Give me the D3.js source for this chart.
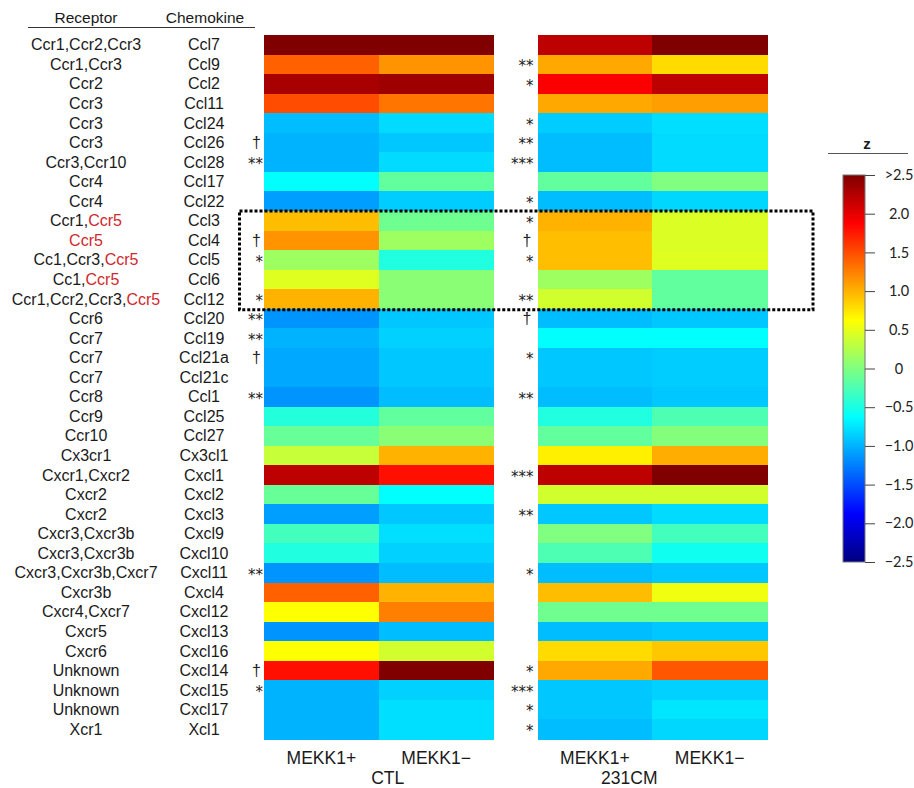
<!DOCTYPE html>
<html>
<head>
<meta charset="utf-8">
<script src="https://cdn.jsdelivr.net/npm/d3@7"></script>
<style>
  body { margin: 0; background: #fff; }
  text { font-family: "Liberation Sans", Arial, sans-serif; fill: #1a1a1a; }
</style>
</head>
<body>
<script>
// data
var receptors = ["Ccr1,Ccr2,Ccr3", "Ccr1,Ccr3", "Ccr2", "Ccr3", "Ccr3", "Ccr3", "Ccr3,Ccr10", "Ccr4", "Ccr4",
  "Ccr1,Ccr5", "Ccr5", "Cc1,Ccr3,Ccr5", "Cc1,Ccr5", "Ccr1,Ccr2,Ccr3,Ccr5", "Ccr6", "Ccr7", "Ccr7", "Ccr7",
  "Ccr8", "Ccr9", "Ccr10", "Cx3cr1", "Cxcr1,Cxcr2", "Cxcr2", "Cxcr2", "Cxcr3,Cxcr3b", "Cxcr3,Cxcr3b",
  "Cxcr3,Cxcr3b,Cxcr7", "Cxcr3b", "Cxcr4,Cxcr7", "Cxcr5", "Cxcr6", "Unknown", "Unknown", "Unknown", "Xcr1"];
var chemokines = ["Ccl7", "Ccl9", "Ccl2", "Ccl11", "Ccl24", "Ccl26", "Ccl28", "Ccl17", "Ccl22", "Ccl3", "Ccl4",
  "Ccl5", "Ccl6", "Ccl12", "Ccl20", "Ccl19", "Ccl21a", "Ccl21c", "Ccl1", "Ccl25", "Ccl27", "Cx3cl1", "Cxcl1",
  "Cxcl2", "Cxcl3", "Cxcl9", "Cxcl10", "Cxcl11", "Cxcl4", "Cxcl12", "Cxcl13", "Cxcl16", "Cxcl14", "Cxcl15",
  "Cxcl17", "Xcl1"];
var groups = ["CTL", "231CM"];
var conditions = ["MEKK1+", "MEKK1\u2212"];

// z-scores, one array per column
var ctlPos = [2.5, 1.4, 2.3, 1.5, -0.95, -1.0, -1.0, -0.62, -1.1, 0.95, 1.15, 0.15, 0.47, 1.0, -1.15, -1.0, -1.05, -1.05,
  -1.15, -0.45, -0.12, 0.35, 2.2, -0.12, -1.1, -0.3, -0.47, -1.15, 1.4, 0.62, -1.15, 0.62, 1.8, -1.0, -1.0, -1.0];
var ctlNeg = [2.5, 1.15, 2.35, 1.3, -0.8, -0.9, -0.8, -0.15, -0.87, -0.08, 0.15, -0.47, 0.05, 0.05, -0.9, -0.85, -0.9, -0.9,
  -0.95, -0.15, 0.05, 1.0, 1.8, -0.62, -0.9, -0.78, -0.85, -0.95, 1.0, 1.25, -0.95, 0.4, 2.5, -0.85, -0.78, -0.78];
var cmPos = [2.2, 1.05, 1.9, 1.05, -0.87, -0.95, -0.95, -0.15, -0.95, 1.0, 0.94, 0.94, 0.15, 0.4, -0.95, -0.62, -0.9, -0.9,
  -0.95, -0.47, -0.15, 0.7, 2.2, 0.4, -0.9, 0.0, -0.25, -0.95, 0.95, -0.08, -0.95, 0.8, 1.05, -0.9, -0.9, -0.95];
var cmNeg = [2.5, 0.8, 2.2, 1.1, -0.78, -0.8, -0.8, 0.0, -0.82, 0.45, 0.45, 0.47, -0.15, -0.15, -0.9, -0.62, -0.87, -0.87,
  -0.9, -0.25, 0.02, 1.02, 2.5, 0.4, -0.8, -0.3, -0.55, -0.9, 0.55, -0.08, -0.9, 0.9, 1.45, -0.85, -0.75, -0.82];

// significance marks (MEKK1+ vs MEKK1-) for each group
var sigCTL = ["", "", "", "", "", "\u2020", "**", "", "", "", "\u2020", "*", "", "*", "**", "**", "\u2020", "",
  "**", "", "", "", "", "", "", "", "", "**", "", "", "", "", "\u2020", "*", "", ""];
var sigCM = ["", "**", "*", "", "*", "**", "***", "", "*", "*", "\u2020", "*", "", "**", "\u2020", "", "*", "",
  "**", "", "", "", "***", "", "**", "", "", "*", "", "", "", "", "*", "***", "*", "*"];

var boxRows = ["Ccl3", "Ccl12"];
var colorTicks = [2.5, 2.0, 1.5, 1.0, 0.5, 0, -0.5, -1.0, -1.5, -2.0, -2.5];

var width = 914, height = 788;

var svg = d3.select("body").append("svg")
  .attr("width", width)
  .attr("height", height);

// jet colour map
function clamp(v) { return Math.max(0, Math.min(1, v)); }
function jet(t) {
  return d3.rgb(255 * clamp(1.5 - Math.abs(4 * t - 3)),
                255 * clamp(1.5 - Math.abs(4 * t - 2)),
                255 * clamp(1.5 - Math.abs(4 * t - 1))).formatHex();
}
var color = d3.scaleSequential(jet).domain([-2.5, 2.5]).clamp(true);

var y = d3.scaleBand().domain(chemokines).range([35, 739]);
var xg = d3.scaleBand().domain(groups).range([264, 767]).paddingInner(0.161);
var xc = d3.scaleBand().domain(conditions).range([0, xg.bandwidth()]);

var columns = [
  {group: "CTL", cond: conditions[0], vals: ctlPos},
  {group: "CTL", cond: conditions[1], vals: ctlNeg},
  {group: "231CM", cond: conditions[0], vals: cmPos},
  {group: "231CM", cond: conditions[1], vals: cmNeg}
];

// cells
var cells = [];
columns.forEach(function(c) {
  c.vals.forEach(function(v, i) {
    cells.push({x: xg(c.group) + xc(c.cond), row: chemokines[i], v: v});
  });
});
svg.append("g").selectAll("rect")
  .data(cells)
  .join("rect")
  .attr("x", function(d) { return d.x; })
  .attr("y", function(d) { return y(d.row); })
  .attr("width", xc.bandwidth() + 0.5)
  .attr("height", y.bandwidth() + 0.5)
  .attr("fill", function(d) { return color(d.v); })
  .attr("shape-rendering", "crispEdges");

// headers
svg.append("text").attr("x", 86).attr("y", 23).attr("text-anchor", "middle")
  .style("font-size", "15.5px").text("Receptor");
svg.append("text").attr("x", 205).attr("y", 23).attr("text-anchor", "middle")
  .style("font-size", "15.5px").text("Chemokine");
svg.append("line").attr("x1", 28).attr("x2", 255).attr("y1", 27.5).attr("y2", 27.5)
  .attr("stroke", "#333").attr("stroke-width", 1);

// receptor labels, Ccr5 in red
var rec = svg.append("g").selectAll("text")
  .data(receptors)
  .join("text")
  .attr("x", 86)
  .attr("y", function(d, i) { return y(chemokines[i]) + y.bandwidth() / 2; })
  .attr("dy", "0.35em")
  .attr("text-anchor", "middle")
  .style("font-size", "16px");
rec.each(function(d) {
  var parts = d.split(",");
  var t = d3.select(this);
  parts.forEach(function(p, k) {
    t.append("tspan").style("fill", p === "Ccr5" ? "#d0282e" : "#1a1a1a").text(p);
    if (k < parts.length - 1) t.append("tspan").text(",");
  });
});

svg.append("g").selectAll("text")
  .data(chemokines)
  .join("text")
  .attr("x", 204)
  .attr("y", function(d) { return y(d) + y.bandwidth() / 2; })
  .attr("dy", "0.35em")
  .attr("text-anchor", "middle")
  .style("font-size", "16px")
  .text(function(d) { return d; });

// significance marks
function marks(arr, xpos) {
  svg.append("g").selectAll("text")
    .data(arr.map(function(s, i) { return {s: s, row: chemokines[i]}; }).filter(function(d) { return d.s; }))
    .join("text")
    .attr("x", function(d) { return d.s === "\u2020" ? xpos - 2 : xpos; })
    .attr("y", function(d) { return y(d.row) + y.bandwidth() / 2; })
    .attr("dy", function(d) { return d.s === "\u2020" ? "0.36em" : "0.45em"; })
    .attr("text-anchor", "end")
    .style("font-family", function(d) { return d.s === "\u2020" ? "'Liberation Sans', sans-serif" : "'DejaVu Sans', sans-serif"; })
    .style("font-size", function(d) { return d.s === "\u2020" ? "16px" : "15px"; })
    .style("fill", "#222")
    .text(function(d) { return d.s; });
}
marks(sigCTL, xg("CTL") - 1);
marks(sigCM, xg("231CM") - 4);

// dotted box around the Ccr5 ligands
var boxTop = y(boxRows[0]), boxBot = y(boxRows[1]) + y.bandwidth() + 1;
svg.append("rect")
  .attr("x", xg("CTL") - 24.5)
  .attr("y", boxTop)
  .attr("width", xg("231CM") + xg.bandwidth() + 46 - (xg("CTL") - 24.5))
  .attr("height", boxBot - boxTop)
  .attr("fill", "none")
  .attr("stroke", "#000")
  .attr("stroke-width", 3)
  .attr("stroke-dasharray", "3,2");

// column labels
groups.forEach(function(g) {
  conditions.forEach(function(c) {
    svg.append("text")
      .attr("x", xg(g) + xc(c) + xc.bandwidth() / 2)
      .attr("y", 764)
      .attr("text-anchor", "middle")
      .style("font-size", "17.5px")
      .text(c);
  });
});
svg.append("text").attr("x", xg("CTL") + xg.bandwidth() / 2 + 9).attr("y", 784)
  .attr("text-anchor", "middle").style("font-size", "17.5px").text("CTL");
svg.append("text").attr("x", xg("231CM") + xg.bandwidth() / 2 - 23).attr("y", 784)
  .attr("text-anchor", "middle").style("font-size", "17.5px").text("231CM");

// colour bar
var cb = d3.scaleLinear().domain([-2.5, 2.5]).range([562, 175]);
var grad = svg.append("defs").append("linearGradient")
  .attr("id", "jetgrad").attr("x1", 0).attr("y1", 1).attr("x2", 0).attr("y2", 0);
d3.range(0, 1.0001, 0.025).forEach(function(t) {
  grad.append("stop").attr("offset", t).attr("stop-color", jet(t));
});
svg.append("rect")
  .attr("x", 843).attr("y", cb(2.5))
  .attr("width", 22).attr("height", cb(-2.5) - cb(2.5))
  .attr("fill", "url(#jetgrad)")
  .attr("stroke", "#777").attr("stroke-width", 1);

var axis = svg.append("g")
  .attr("transform", "translate(865,0)")
  .call(d3.axisRight(cb)
    .tickValues(colorTicks)
    .tickSize(10)
    .tickFormat(function(d) {
      if (d === 2.5) return ">2.5";
      if (d === 0) return "0";
      return (d < 0 ? "\u2212" : "") + Math.abs(d).toFixed(1);
    }));
axis.select(".domain").remove();
axis.selectAll(".tick line").attr("stroke", "#444");
axis.selectAll(".tick text")
  .attr("x", 34)
  .attr("text-anchor", "middle")
  .style("font-family", "Lato, sans-serif")
  .style("font-size", "14.5px")
  .style("fill", "#222");

svg.append("text").attr("x", 867).attr("y", 149).attr("text-anchor", "middle")
  .style("font-size", "15px").style("font-weight", "bold").text("z");
svg.append("line").attr("x1", 828).attr("x2", 908).attr("y1", 153.5).attr("y2", 153.5)
  .attr("stroke", "#555").attr("stroke-width", 1.2);
</script>
</body>
</html>
